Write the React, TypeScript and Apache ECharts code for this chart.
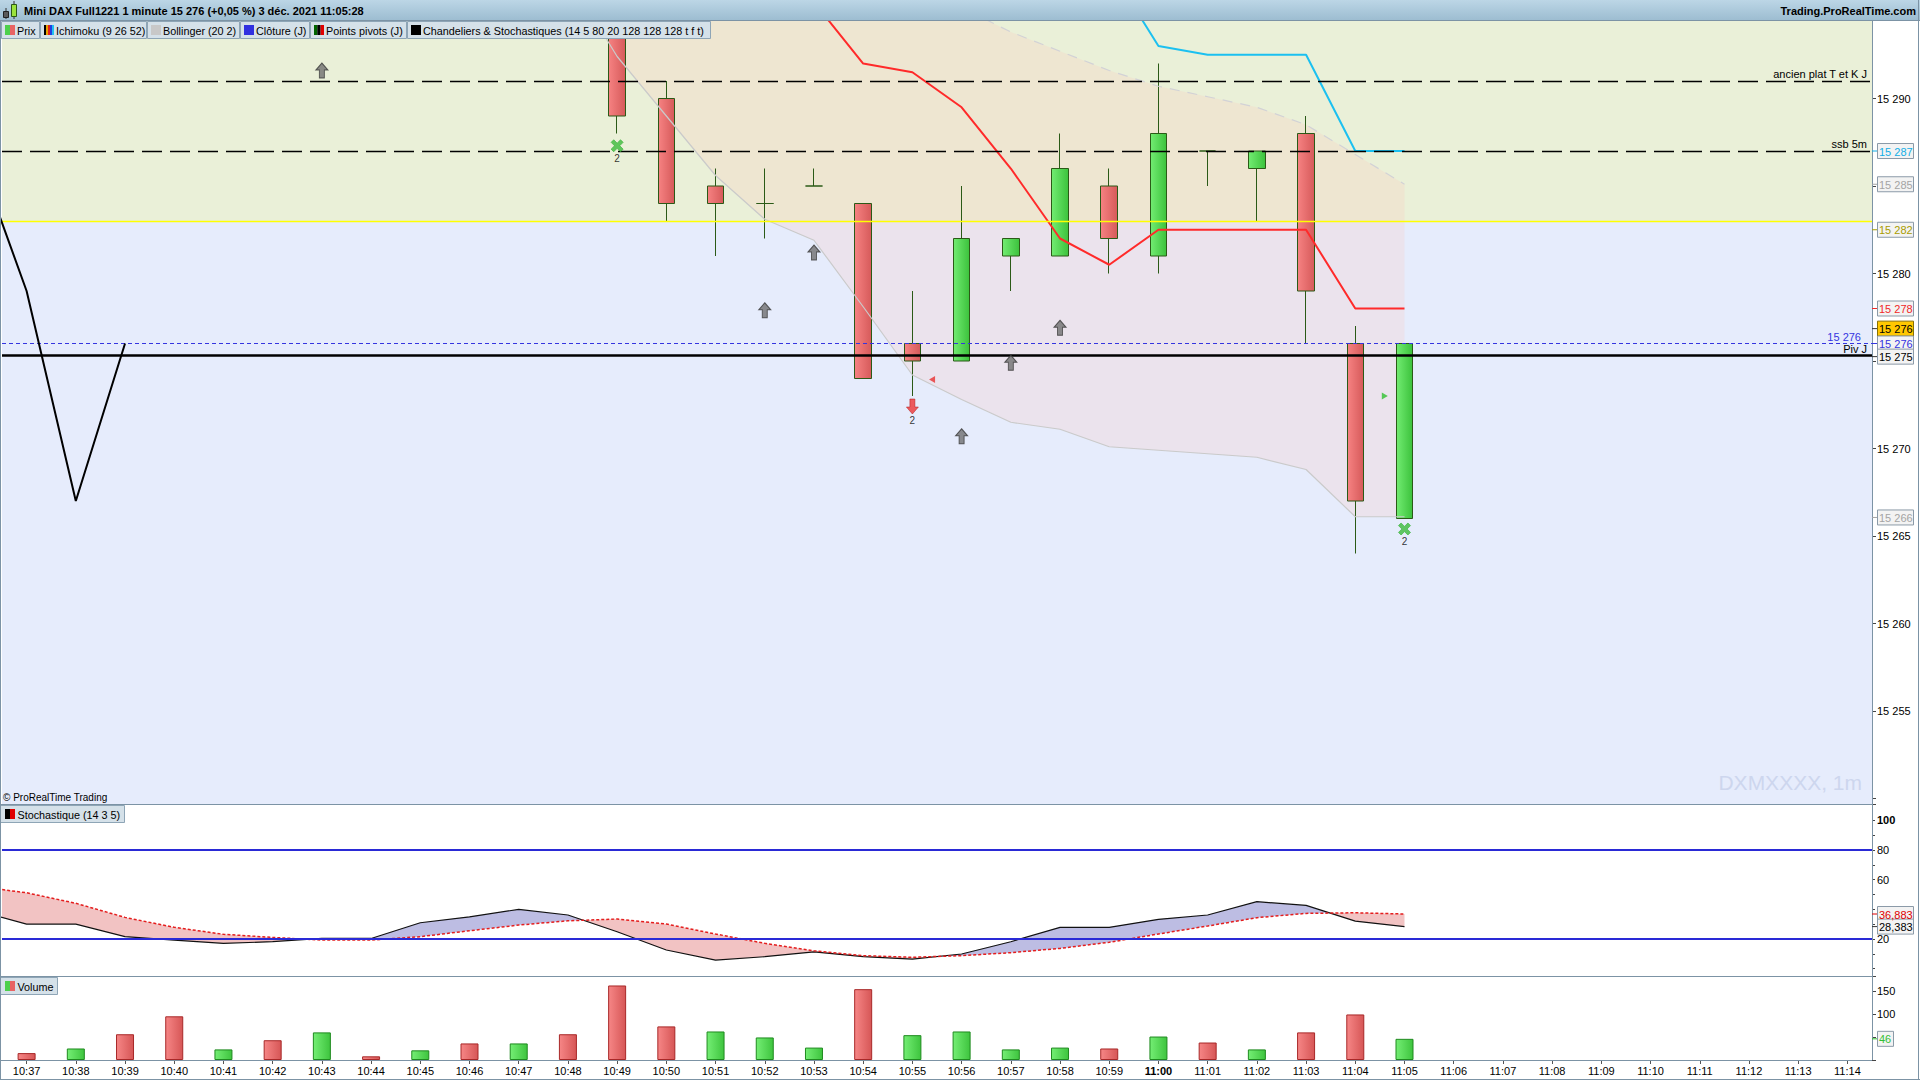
import React, { useEffect, useRef } from 'react';
import * as echarts from 'echarts';

const FONT = '"Liberation Sans", Arial, sans-serif';

// ---------- data ----------
const times = ['10:37','10:38','10:39','10:40','10:41','10:42','10:43','10:44','10:45','10:46','10:47','10:48','10:49','10:50','10:51','10:52','10:53','10:54','10:55','10:56','10:57','10:58','10:59','11:00','11:01','11:02','11:03','11:04','11:05','11:06','11:07','11:08','11:09','11:10','11:11','11:12','11:13','11:14'];

// candles 10:49 (index 12) .. 11:05 (index 28)
const candleStart = 12;
const opens  = [15296, 15290, 15285, 15284, 15285, 15284, 15276, 15275, 15281, 15281, 15285, 15281, 15287, 15286, 15288, 15276, 15266];
const closes = [15289, 15284, 15284, 15284, 15285, 15274, 15275, 15282, 15282, 15286, 15282, 15288, 15287, 15287, 15279, 15267, 15276];
const lows   = [15288, 15283, 15281, 15282, 15285, 15274, 15273, 15275, 15279, 15281, 15280, 15280, 15285, 15283, 15276, 15264, 15266];
const highs  = [15297, 15291, 15286, 15286, 15286, 15284, 15279, 15285, 15282, 15288, 15286, 15292, 15287, 15287, 15289, 15277, 15276];

const volumes  = [15, 25, 56, 95, 23, 43, 60, 8, 21, 36, 36, 56, 162, 73, 62, 49, 27, 154, 54, 62, 23, 27, 25, 51, 38, 23, 60, 99, 46];
const volumeUp = [0, 1, 0, 0, 1, 0, 1, 0, 1, 0, 1, 0, 0, 0, 1, 1, 1, 0, 1, 1, 1, 1, 0, 1, 0, 1, 0, 0, 1];

const tenkanStart = 16;
const tenkan = [15295.5, 15292, 15291.5, 15289.5, 15286, 15282, 15280.5, 15282.5, 15282.5, 15282.5, 15282.5, 15278, 15278];
const kijunStart = 22;
const kijun = [15297.5, 15293, 15292.5, 15292.5, 15292.5, 15287, 15287];

const bollStart = 11;
const bollLower = [15297, 15292.4, 15289, 15285.6, 15283.1, 15281.9, 15278.1, 15274.2, 15272.8, 15271.5, 15271.1, 15270.1, 15269.9, 15269.7, 15269.5, 15268.8, 15266.1, 15266.1];
const bollUpper = [15304, 15303, 15302, 15301, 15300, 15299, 15298, 15297, 15295.2, 15293.8, 15292.7, 15291.6, 15290.7, 15290.1, 15289.5, 15288.5, 15286.8, 15285.1];

const closeLineX = [-1, 0, 1, 2];
const closeLine = [15286.8, 15279, 15267, 15276];

const levelAncien = 15291;
const levelSsb = 15287;
const levelSplit = 15283;
const levelClose = 15276;
const levelPivot = 15275.33;

const upArrows = [[6, 15291.6], [15, 15277.9], [16, 15281.2], [19, 15270.7], [20, 15274.9], [21, 15276.9]];
const downArrows = [[18, 15272.4]];
const crosses = [[12, 15287.3], [28, 15265.4]];
const leftTriangles = [[18.4, 15273.95]];
const rightTriangles = [[27.6, 15273]];

const stochX = [-1, 0, 1, 2, 3, 4, 5, 6, 7, 8, 9, 10, 11, 12, 13, 14, 15, 16, 17, 18, 19, 20, 21, 22, 23, 24, 25, 26, 27, 28];
const stochK = [39, 30.1, 30.1, 21.6, 19.3, 17.1, 18.2, 20.4, 20.4, 31, 35, 40, 36.2, 24.9, 12.6, 5.8, 8.1, 11.4, 8.1, 6.5, 9.9, 18.2, 27.9, 27.9, 33.3, 36.2, 45.2, 42.7, 32.1, 28.383];
const stochD = [55.5, 51.2, 44.1, 34.6, 27.9, 23.2, 21.1, 19.3, 19.3, 21.6, 25.6, 29.4, 32.3, 33.5, 30.1, 23.4, 17.1, 12.1, 8.8, 7.7, 8.8, 10.8, 13.7, 17.8, 23.4, 28.8, 34.4, 37.3, 37.7, 36.883];

const priceMin = 15249.686;
const priceMax = 15294.486;
const priceTickLabels = [15255, 15260, 15265, 15270, 15280, 15290];
const stochTickLabels = [20, 60, 80, 100];
const volumeMax = 182.6;
const volumeTickLabels = [100, 150];

const priceTags = [
  { value: 15287, text: '15 287', color: '#12AEE6' },
  { value: 15285.1, text: '15 285', color: '#A4A4A4' },
  { value: 15282.5, text: '15 282', color: '#A89C00' },
  { value: 15278, text: '15 278', color: '#F02828' },
  { value: 15276.85, text: '15 276', color: '#000000', bg: '#FFC800' },
  { value: 15276, text: '15 276', color: '#3434E0' },
  { value: 15275.25, text: '15 275', color: '#000000' },
  { value: 15266.06, text: '15 266', color: '#A4A4A4' },
];
const stochTags = [
  { value: 36.883, text: '36,883', color: '#E00000' },
  { value: 28.383, text: '28,383', color: '#000000' },
];
const volumeTags = [{ value: 46, text: '46', color: '#33C033' }];

const legendItems = [
  { text: 'Prix', x: 1, w: 38, icon: [['#4CD04C', 5], ['#E86464', 5]] },
  { text: 'Ichimoku (9 26 52)', x: 40, w: 106, icon: [['#000000', 2], ['#E8A000', 2], ['#E02020', 2], ['#2040E0', 2], ['#20C0F0', 2]] },
  { text: 'Bollinger (20 2)', x: 147, w: 92, icon: [['#C8C8C8', 10]] },
  { text: 'Clôture (J)', x: 240, w: 69, icon: [['#3030E0', 10]] },
  { text: 'Points pivots (J)', x: 310, w: 96, icon: [['#006400', 3.3], ['#000000', 3.3], ['#E00000', 3.4]] },
  { text: 'Chandeliers & Stochastiques (14 5 80 20 128 128 128 t f t)', x: 407, w: 303, icon: [['#000000', 10]] },
];

// ---------- helpers ----------
const fmtPrice = (v: number) => {
  const r = Math.round(v);
  return `${Math.floor(r / 1000)} ${String(r % 1000).padStart(3, '0')}`;
};
const near = (arr: number[], v: number) => arr.some((t) => Math.abs(t - v) < 1e-6);

const hGrad = (a: string, b: string) =>
  new echarts.graphic.LinearGradient(0, 0, 1, 0, [
    { offset: 0, color: a },
    { offset: 1, color: b },
  ]);

const upArrowPath = 'path://M6,0 L12,7 L8.5,7 L8.5,15 L3.5,15 L3.5,7 L0,7 Z';
const crossPath = 'path://M0,2.6 L2.6,0 L6,3.4 L9.4,0 L12,2.6 L8.6,6 L12,9.4 L9.4,12 L6,8.6 L2.6,12 L0,9.4 L3.4,6 Z';

function buildOption(): any {
  const candleData = times.map((_, i) => {
    const j = i - candleStart;
    if (j < 0 || j >= opens.length) return ['-', '-', '-', '-'];
    return [opens[j], closes[j], lows[j], highs[j]];
  });

  const greenBar = { color: hGrad('#74EE74', '#3EC43E'), borderColor: '#1F8A1F', borderWidth: 1 };
  const redBar = { color: hGrad('#F68686', '#D65656'), borderColor: '#A82828', borderWidth: 1 };

  const lineBase = { type: 'line', xAxisIndex: 2, yAxisIndex: 0, symbol: 'none', clip: true, z: 4, silent: true };

  const labelStyle = { color: '#000', fontSize: 11, fontFamily: FONT };

  const yBase = {
    type: 'value', position: 'right',
    axisLine: { show: false, onZero: false }, splitLine: { show: false },
  };

  return {
    animation: false,
    backgroundColor: '#ffffff',
    textStyle: { fontFamily: FONT },
    grid: [
      { left: 2, right: 48, top: 20, height: 784 },
      { left: 2, right: 48, top: 820.4, height: 148.3 },
      { left: 2, right: 48, top: 976, height: 84 },
    ],
    xAxis: [
      { type: 'category', gridIndex: 0, data: times, boundaryGap: true, show: false },
      {
        type: 'category', gridIndex: 2, data: times, boundaryGap: true,
        axisLine: { show: false, onZero: false },
        axisTick: { show: true, alignWithLabel: true, interval: 0, length: 4, lineStyle: { color: '#555' } },
        axisLabel: {
          interval: 0, margin: 5, color: '#000', fontSize: 11, fontFamily: FONT,
          formatter: (v: string) => (v === '11:00' ? '{b|11:00}' : v),
          rich: { b: { fontWeight: 'bold', fontSize: 11, fontFamily: FONT, color: '#000' } },
        },
        splitLine: { show: false },
      },
      { type: 'value', gridIndex: 0, min: -0.5, max: 37.5, show: false, axisLine: { onZero: false } },
      { type: 'value', gridIndex: 1, min: -0.5, max: 37.5, show: false, axisLine: { onZero: false } },
    ],
    yAxis: [
      {
        ...yBase, gridIndex: 0, min: priceMin, max: priceMax, splitNumber: 9,
        axisTick: { show: true, length: 4, lineStyle: { color: '#444' } },
        axisLabel: {
          margin: 5, color: '#000', fontSize: 11, fontFamily: FONT,
          formatter: (v: number) => (near(priceTickLabels, v) ? fmtPrice(v) : ''),
        },
      },
      {
        ...yBase, gridIndex: 1, min: 0, max: 100, interval: 10,
        axisTick: { show: true, length: 3, lineStyle: { color: '#444' } },
        axisLabel: {
          margin: 5, color: '#000', fontSize: 11, fontFamily: FONT,
          formatter: (v: number) => (near(stochTickLabels, v) ? (v === 100 ? '{b|100}' : String(v)) : ''),
          rich: { b: { fontWeight: 'bold', fontSize: 11, fontFamily: FONT, color: '#000' } },
        },
      },
      {
        ...yBase, gridIndex: 2, min: 0, max: volumeMax, interval: 50,
        axisTick: { show: true, length: 4, lineStyle: { color: '#444' } },
        axisLabel: {
          margin: 5, color: '#000', fontSize: 11, fontFamily: FONT,
          formatter: (v: number) => (near(volumeTickLabels, v) ? String(v) : ''),
        },
      },
    ],
    series: [
      // background split by level
      {
        type: 'custom', xAxisIndex: 2, yAxisIndex: 0, z: 0, silent: true, clip: true,
        data: [[0, levelSplit]],
        renderItem: (_p: any, api: any) => {
          const tl = api.coord([-0.5, priceMax]);
          const br = api.coord([37.5, priceMin]);
          const mid = api.coord([-0.5, levelSplit])[1];
          return {
            type: 'group',
            children: [
              { type: 'rect', shape: { x: tl[0] - 2, y: tl[1], width: br[0] - tl[0] + 2, height: mid - tl[1] }, style: { fill: '#EAF0D8' } },
              { type: 'rect', shape: { x: tl[0] - 2, y: mid, width: br[0] - tl[0] + 2, height: br[1] - mid }, style: { fill: '#E6ECFC' } },
            ],
          };
        },
      },
      // bollinger band fill
      {
        type: 'custom', xAxisIndex: 2, yAxisIndex: 0, z: 1, silent: true, clip: true,
        data: [[bollStart, bollLower[0]]],
        renderItem: (_p: any, api: any) => {
          const up = bollUpper.map((v, k) => api.coord([bollStart + k, v]));
          const lo = bollLower.map((v, k) => api.coord([bollStart + k, v])).reverse();
          return { type: 'polygon', shape: { points: up.concat(lo) }, style: { fill: 'rgba(255,196,186,0.22)' } };
        },
      },
      {
        type: 'candlestick', xAxisIndex: 0, yAxisIndex: 0, barWidth: 17, z: 3, clip: true, silent: true,
        data: candleData,
        itemStyle: {
          color: hGrad('#72EC72', '#3CC23C'),
          color0: hGrad('#F68282', '#D65A5A'),
          borderColor: '#2B5A17', borderColor0: '#2B5A17', borderColorDoji: '#2B5A17', borderWidth: 1,
        },
      },
      { ...lineBase, data: bollLower.map((v, k) => [bollStart + k, v]), lineStyle: { color: '#CACACA', width: 1.2 } },
      { ...lineBase, data: bollUpper.map((v, k) => [bollStart + k, v]), lineStyle: { color: '#D2D2D6', width: 1.2, type: [10, 8] } },
      { ...lineBase, data: tenkan.map((v, k) => [tenkanStart + k, v]), lineStyle: { color: '#FF2A2A', width: 2 } },
      { ...lineBase, data: kijun.map((v, k) => [kijunStart + k, v]), lineStyle: { color: '#1CC0F0', width: 2 } },
      {
        ...lineBase, z: 5,
        data: closeLineX.map((x, k) => [x, closeLine[k]]),
        lineStyle: { color: '#000', width: 2 },
        markLine: {
          silent: true, symbol: ['none', 'none'], animation: false,
          data: [
            { yAxis: levelAncien, lineStyle: { color: '#000', width: 1.3, type: [20, 8] }, label: { show: true, position: 'insideEndTop', formatter: 'ancien plat T et K J', distance: [5, 2], ...labelStyle } },
            { yAxis: levelSsb, lineStyle: { color: '#000', width: 1.3, type: [20, 8] }, label: { show: true, position: 'insideEndTop', formatter: 'ssb 5m', distance: [5, 2], ...labelStyle } },
            { yAxis: levelSplit, lineStyle: { color: '#FFFF00', width: 1.3, type: 'solid' }, label: { show: false } },
            { yAxis: levelClose, lineStyle: { color: '#3535E0', width: 1, type: [4, 3] }, label: { show: true, position: 'insideEndTop', formatter: '15 276', distance: [11, 1], ...labelStyle, color: '#3535E0' } },
            { yAxis: levelPivot, lineStyle: { color: '#000', width: 2.5, type: 'solid' }, label: { show: true, position: 'insideEndTop', formatter: 'Piv J', distance: [5, 1], ...labelStyle } },
          ],
        },
      },
      {
        type: 'scatter', xAxisIndex: 2, yAxisIndex: 0, z: 6, silent: true,
        data: upArrows, symbol: upArrowPath, symbolSize: [12, 15],
        itemStyle: { color: '#707070', borderColor: '#3A3A3A', borderWidth: 1 },
      },
      {
        type: 'scatter', xAxisIndex: 2, yAxisIndex: 0, z: 6, silent: true,
        data: downArrows, symbol: upArrowPath, symbolSize: [12, 15], symbolRotate: 180,
        itemStyle: { color: '#EE3434', borderColor: '#B01818', borderWidth: 0.6 },
        label: { show: true, formatter: '2', position: 'bottom', distance: 1, fontSize: 10, color: '#000', fontFamily: FONT },
      },
      {
        type: 'scatter', xAxisIndex: 2, yAxisIndex: 0, z: 6, silent: true,
        data: crosses, symbol: crossPath, symbolSize: 12,
        itemStyle: { color: '#3CBC3C', borderColor: '#34B034', borderWidth: 0.8 },
        label: { show: true, formatter: '2', position: 'bottom', distance: 1, fontSize: 10, color: '#000', fontFamily: FONT },
      },
      {
        type: 'scatter', xAxisIndex: 2, yAxisIndex: 0, z: 6, silent: true,
        data: leftTriangles, symbol: 'triangle', symbolSize: [7, 6], symbolRotate: 90,
        itemStyle: { color: '#E83030' },
      },
      {
        type: 'scatter', xAxisIndex: 2, yAxisIndex: 0, z: 6, silent: true,
        data: rightTriangles, symbol: 'triangle', symbolSize: [7, 6], symbolRotate: -90,
        itemStyle: { color: '#30C030' },
      },
      // stochastic fill
      {
        type: 'custom', xAxisIndex: 3, yAxisIndex: 1, z: 1, silent: true, clip: true,
        data: [[stochX[0], stochK[0]]],
        renderItem: (_p: any, api: any) => {
          const children: any[] = [];
          let kPts: number[][] = [];
          let dPts: number[][] = [];
          let sign = 0;
          const flush = (s: number) => {
            if (kPts.length >= 2) {
              children.push({
                type: 'polygon',
                shape: { points: kPts.concat(dPts.slice().reverse()) },
                style: { fill: s > 0 ? '#BDBDE3' : '#F2C3C3' },
              });
            }
          };
          for (let j = 0; j < stochX.length; j++) {
            const x = stochX[j], k = stochK[j], d = stochD[j];
            const s = k >= d ? 1 : -1;
            if (j === 0) {
              sign = s;
              kPts = [api.coord([x, k])];
              dPts = [api.coord([x, d])];
              continue;
            }
            if (s !== sign) {
              const x0 = stochX[j - 1], k0 = stochK[j - 1], d0 = stochD[j - 1];
              const t = (k0 - d0) / ((k0 - d0) - (k - d));
              const pc = api.coord([x0 + t * (x - x0), k0 + t * (k - k0)]);
              kPts.push(pc);
              dPts.push(pc);
              flush(sign);
              kPts = [pc];
              dPts = [pc];
              sign = s;
            }
            kPts.push(api.coord([x, k]));
            dPts.push(api.coord([x, d]));
          }
          flush(sign);
          return { type: 'group', children };
        },
      },
      {
        type: 'line', xAxisIndex: 3, yAxisIndex: 1, symbol: 'none', z: 3, silent: true, clip: true,
        data: stochX.map((x, j) => [x, stochK[j]]),
        lineStyle: { color: '#111', width: 1.2 },
      },
      {
        type: 'line', xAxisIndex: 3, yAxisIndex: 1, symbol: 'none', z: 3, silent: true, clip: true,
        data: stochX.map((x, j) => [x, stochD[j]]),
        lineStyle: { color: '#E41E1E', width: 1.5, type: [3, 2] },
        markLine: {
          silent: true, symbol: ['none', 'none'], animation: false, label: { show: false },
          data: [
            { yAxis: 80, lineStyle: { color: '#2A2AD6', width: 2.2, type: 'solid' } },
            { yAxis: 20, lineStyle: { color: '#2A2AD6', width: 2.2, type: 'solid' } },
          ],
        },
      },
      {
        type: 'bar', xAxisIndex: 1, yAxisIndex: 2, barWidth: 18, silent: true,
        data: volumes.map((v, i) => ({ value: v, itemStyle: volumeUp[i] ? greenBar : redBar })),
      },
    ],
  };
}

function buildGraphic(chart: any): any[] {
  const els: any[] = [];
  const Z = 100;
  const FRAME = '#7C93A5';
  const txt = (x: number, y: number, text: string, opts: any = {}) => ({
    type: 'text', z: Z + 2, x, y, silent: true,
    style: {
      text,
      font: opts.font || `11px ${FONT}`,
      fill: opts.fill || '#000',
      align: opts.align || 'left', textAlign: opts.align || 'left',
      verticalAlign: 'middle', textVerticalAlign: 'middle',
    },
  });
  const rect = (x: number, y: number, w: number, h: number, fill: any, stroke?: string, z = Z) => ({
    type: 'rect', z, silent: true, shape: { x, y, width: w, height: h },
    style: { fill, stroke: stroke || null, lineWidth: stroke ? 1 : 0 },
  });
  const line = (x1: number, y1: number, x2: number, y2: number, stroke: string, w = 1, z = Z + 1) => ({
    type: 'line', z, silent: true, shape: { x1, y1, x2, y2 }, style: { stroke, lineWidth: w },
  });

  // title bar
  els.push(rect(0, 0, 1920, 20, new echarts.graphic.LinearGradient(0, 0, 0, 1, [
    { offset: 0, color: '#BCD6E6' }, { offset: 1, color: '#9DBDD1' },
  ])));
  els.push(line(0, 20.5, 1920, 20.5, FRAME));
  // small candle icon
  els.push(line(6, 8, 6, 19, '#333'));
  els.push(rect(3.5, 11.5, 5, 6, '#5A5A5A', '#222', Z + 1));
  els.push(line(14, 1, 14, 19, '#333'));
  els.push(rect(11.5, 4.5, 5, 12, '#9BE23C', '#2B5A17', Z + 1));
  els.push(txt(24, 10.5, 'Mini DAX Full1221 1 minute 15 276 (+0,05 %) 3 déc. 2021 11:05:28', { font: `bold 11px ${FONT}` }));
  els.push(txt(1916, 10.5, 'Trading.ProRealTime.com', { font: `bold 11px ${FONT}`, align: 'right' }));

  // legend row
  legendItems.forEach((it) => {
    els.push(rect(it.x + 0.5, 21.5, it.w, 17, '#D5E1E9', '#8EA5B6'));
    let ix = it.x + 4;
    (it.icon as any[]).forEach(([c, w]) => {
      els.push(rect(ix, 25, w, 10, c, undefined, Z + 1));
      ix += w;
    });
    els.push(txt(it.x + 16, 30.5, it.text, { font: `10.8px ${FONT}` }));
  });

  // frame lines
  els.push(line(0.5, 20, 0.5, 1080, FRAME));
  els.push(line(1918.5, 0, 1918.5, 1080, FRAME));
  els.push(line(1872.5, 20, 1872.5, 1060, FRAME));
  els.push(line(0, 804.5, 1872, 804.5, FRAME));
  els.push(line(0, 976.5, 1872, 976.5, FRAME));
  els.push(line(0, 1060.5, 1872, 1060.5, FRAME));
  els.push(line(0, 1079.5, 1920, 1079.5, FRAME));

  // watermark & copyright
  els.push(txt(1862, 782, 'DXMXXXX, 1m', { font: `21px ${FONT}`, fill: '#CDD6EE', align: 'right' }));
  els.push(txt(3, 797, '© ProRealTime Trading', { font: `10px ${FONT}` }));

  // panel legends
  const panelLegend = (y: number, w: number, text: string, colors: string[]) => {
    els.push(rect(0.5, y + 0.5, w, 17, '#D5E1E9', '#8EA5B6'));
    colors.forEach((c, k) => els.push(rect(5 + k * 5, y + 4, 5, 10, c, undefined, Z + 1)));
    els.push(txt(17.5, y + 9.5, text, { font: `10.8px ${FONT}` }));
  };
  panelLegend(805, 124, 'Stochastique (14 3 5)', ['#000000', '#E00000']);
  panelLegend(977, 57, 'Volume', ['#4CD04C', '#E86464']);

  // value tags on right axes
  const tag = (yAxisIndex: number, t: any) => {
    const py = chart.convertToPixel({ yAxisIndex }, t.value);
    const w = t.text.length <= 2 ? 16 : 36;
    els.push(line(1872, py, 1877, py, t.color === '#000000' ? '#333' : t.color, 1, Z + 3));
    els.push(rect(1877.5, py - 7.5, w, 15, t.bg || '#F3F3F3', t.bg ? '#8A7000' : '#8B9AA8', Z + 3));
    els.push({ ...txt(1879, py + 0.5, t.text, { fill: t.color }), z: Z + 4 });
  };
  priceTags.forEach((t) => tag(0, t));
  stochTags.forEach((t) => tag(1, t));
  volumeTags.forEach((t) => tag(2, t));

  return els;
}

export default function App() {
  const ref = useRef<HTMLDivElement>(null);
  useEffect(() => {
    document.body.style.margin = '0';
    const chart = echarts.init(ref.current!, null, { renderer: 'svg' });
    chart.setOption(buildOption());
    chart.setOption({ graphic: { elements: buildGraphic(chart) } });
    return () => chart.dispose();
  }, []);
  return <div ref={ref} style={{ width: 1920, height: 1080 }} />;
}
